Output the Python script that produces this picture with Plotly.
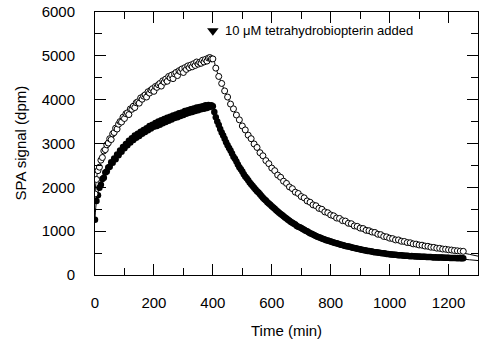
import plotly.graph_objects as go

# ---------------- data ----------------
open_t = list(range(0, 400, 5)) + list(range(400, 1251, 10))
open_v = [
    1850, 2180, 2380, 2460, 2620, 2680, 2830, 2860, 2970, 3010,
    3110, 3090, 3220, 3250, 3350, 3330, 3440, 3500, 3490, 3600,
    3570, 3680, 3700, 3660, 3790, 3780, 3850, 3820, 3930, 3950,
    3920, 4040, 4010, 4080, 4110, 4060, 4180, 4150, 4220, 4250,
    4190, 4300, 4280, 4340, 4370, 4310, 4430, 4400, 4470, 4420,
    4530, 4500, 4560, 4480, 4590, 4620, 4550, 4660, 4640, 4700,
    4620, 4730, 4690, 4770, 4730, 4790, 4750, 4820, 4780, 4860,
    4810, 4850, 4830, 4900, 4860, 4920, 4880, 4950, 4960, 4930,
    # decay (every 10 min from 400)
    4930, 4720, 4530, 4370, 4200, 4060, 3900, 3790, 3650, 3540,
    3400, 3310, 3190, 3110, 2990, 2910, 2790, 2720, 2610, 2540,
    2440, 2380, 2280, 2230, 2140, 2090, 2010, 1970, 1890, 1860,
    1790, 1760, 1690, 1660, 1600, 1580, 1520, 1500, 1440, 1420,
    1370, 1350, 1300, 1290, 1240, 1230, 1180, 1170, 1120, 1110,
    1070, 1060, 1020, 1010, 980, 970, 930, 920, 880, 870,
    840, 830, 800, 800, 770, 765, 740, 735, 710, 705,
    685, 680, 660, 655, 635, 630, 612, 608, 592, 588,
    575, 570, 558, 552, 545, 540,
]

filled_t = list(range(0, 1251, 5))
filled_v = [
    1260, 1690, 1820, 1990, 2060, 2190, 2220, 2340, 2360, 2450,
    2470, 2570, 2560, 2660, 2640, 2750, 2730, 2840, 2810, 2920,
    2890, 2990, 2960, 3060, 3020, 3120, 3080, 3180, 3130, 3220,
    3170, 3270, 3220, 3310, 3260, 3350, 3300, 3400, 3340, 3430,
    3380, 3470, 3400, 3500, 3430, 3530, 3460, 3560, 3490, 3590,
    3520, 3610, 3550, 3640, 3580, 3660, 3600, 3690, 3630, 3710,
    3650, 3740, 3680, 3760, 3700, 3780, 3720, 3800, 3740, 3820,
    3760, 3830, 3780, 3850, 3790, 3870, 3810, 3880, 3830, 3870,
    # decay (every 5 min from 400)
    3850, 3720, 3600, 3500, 3420, 3330, 3250, 3180, 3110, 3030,
    2960, 2900, 2840, 2770, 2700, 2650, 2590, 2520, 2460, 2410,
    2360, 2300, 2250, 2210, 2160, 2110, 2070, 2030, 1990, 1950,
    1910, 1880, 1840, 1800, 1760, 1730, 1700, 1660, 1630, 1600,
    1570, 1540, 1510, 1480, 1450, 1420, 1390, 1370, 1340, 1310,
    1290, 1260, 1240, 1210, 1190, 1170, 1150, 1120, 1100, 1090,
    1070, 1050, 1030, 1010, 1000, 975, 955, 940, 925, 905,
    890, 875, 862, 848, 835, 822, 810, 795, 785, 775,
    765, 752, 742, 732, 725, 712, 702, 692, 686, 672,
    664, 658, 652, 642, 632, 624, 618, 608, 600, 594,
    588, 578, 570, 564, 558, 550, 545, 540, 535, 525,
    520, 518, 515, 505, 500, 497, 495, 488, 480, 478,
    475, 470, 465, 462, 460, 455, 450, 452, 450, 444,
    440, 442, 440, 435, 430, 432, 430, 425, 422, 424,
    420, 418, 415, 416, 415, 410, 408, 410, 410, 404,
    402, 404, 402, 399, 398, 400, 398, 394, 392, 394,
    393, 390, 388, 390, 388, 386, 384, 385, 384, 382,
    380,
]

open_fit_t = [0, 5, 10, 25, 50, 100, 150, 200, 250, 300, 350, 400, 410, 450, 500,
              550, 600, 700, 800, 900, 1000, 1100, 1200, 1250, 1300]
open_fit_v = [1900, 2200, 2380, 2700, 3080, 3600, 3960, 4230, 4480, 4680, 4840, 4930,
              4720, 4050, 3410, 2900, 2450, 1800, 1380, 1080, 850, 685, 560, 500, 430]

filled_fit_t = [0, 5, 10, 25, 50, 100, 150, 200, 250, 300, 350, 400, 410, 450, 500,
                550, 600, 700, 800, 900, 1000, 1100, 1200, 1250, 1300]
filled_fit_v = [1300, 1700, 1880, 2180, 2480, 2920, 3200, 3400, 3560, 3680, 3780, 3850,
                3600, 2970, 2360, 1910, 1570, 1070, 765, 588, 475, 420, 385, 360, 330]

x_ticks = [0, 200, 400, 600, 800, 1000, 1200]
y_ticks = [0, 1000, 2000, 3000, 4000, 5000, 6000]

arrow_t = [400]
arrow_v = [5570]
note = "10 \u03bcM tetrahydrobiopterin added"

FONT = "Liberation Sans, Arial, Helvetica, sans-serif"

fig = go.Figure()

fig.add_trace(go.Scatter(x=open_fit_t, y=open_fit_v, mode="lines",
                         line=dict(color="black", width=1, shape="spline"),
                         hoverinfo="skip", showlegend=False))
fig.add_trace(go.Scatter(x=filled_fit_t, y=filled_fit_v, mode="lines",
                         line=dict(color="black", width=1, shape="spline"),
                         hoverinfo="skip", showlegend=False))
fig.add_trace(go.Scatter(x=filled_t, y=filled_v, mode="markers",
                         marker=dict(symbol="circle", size=6.5, color="black",
                                     line=dict(width=0)),
                         showlegend=False))
fig.add_trace(go.Scatter(x=open_t, y=open_v, mode="markers",
                         marker=dict(symbol="circle", size=6, color="white",
                                     line=dict(width=1, color="black")),
                         showlegend=False))
fig.add_trace(go.Scatter(x=arrow_t, y=arrow_v, mode="markers",
                         marker=dict(symbol="triangle-down", size=10, color="black"),
                         showlegend=False))

fig.add_annotation(x=433, y=5570, xref="x", yref="y", text=note, showarrow=False,
                   xanchor="left", yanchor="middle",
                   font=dict(family=FONT, size=13, color="black"))
fig.add_annotation(x=0, y=0.5, xref="paper", yref="paper", text="SPA signal (dpm)",
                   textangle=-90, showarrow=False, xanchor="center", yanchor="middle",
                   xshift=-75, font=dict(family=FONT, size=15, color="black"))
fig.add_annotation(x=0.5, y=0, xref="paper", yref="paper", text="Time (min)",
                   showarrow=False, xanchor="center", yanchor="middle",
                   yshift=-55, font=dict(family=FONT, size=15, color="black"))

fig.update_layout(
    width=479, height=339,
    margin=dict(l=95, r=1, t=12, b=64, autoexpand=False),
    paper_bgcolor="white", plot_bgcolor="white",
    font=dict(family=FONT, size=15, color="black"),
    showlegend=False,
)
fig.update_xaxes(range=[0, 1300], tickvals=x_ticks, ticktext=[str(v) for v in x_ticks],
                 ticks="inside", ticklen=11, tickwidth=1, tickcolor="black",
                 minor=dict(dtick=100, tick0=0, ticks="inside", ticklen=7,
                            tickcolor="black", showgrid=False),
                 showline=True, linecolor="black", linewidth=1, mirror="ticks",
                 showgrid=False, zeroline=False, ticklabelstandoff=14,
                 automargin=False, tickfont=dict(family=FONT, size=15))
fig.update_yaxes(range=[0, 6000], tickvals=y_ticks, ticktext=[str(v) for v in y_ticks],
                 ticks="inside", ticklen=11, tickwidth=1, tickcolor="black",
                 minor=dict(dtick=500, tick0=0, ticks="inside", ticklen=7,
                            tickcolor="black", showgrid=False),
                 showline=True, linecolor="black", linewidth=1, mirror="ticks",
                 showgrid=False, zeroline=False, ticklabelstandoff=16,
                 automargin=False, tickfont=dict(family=FONT, size=15))

fig.write_html("out.html", config={"displayModeBar": False},
               post_script="document.body.style.margin='0';document.body.style.padding='0';")
